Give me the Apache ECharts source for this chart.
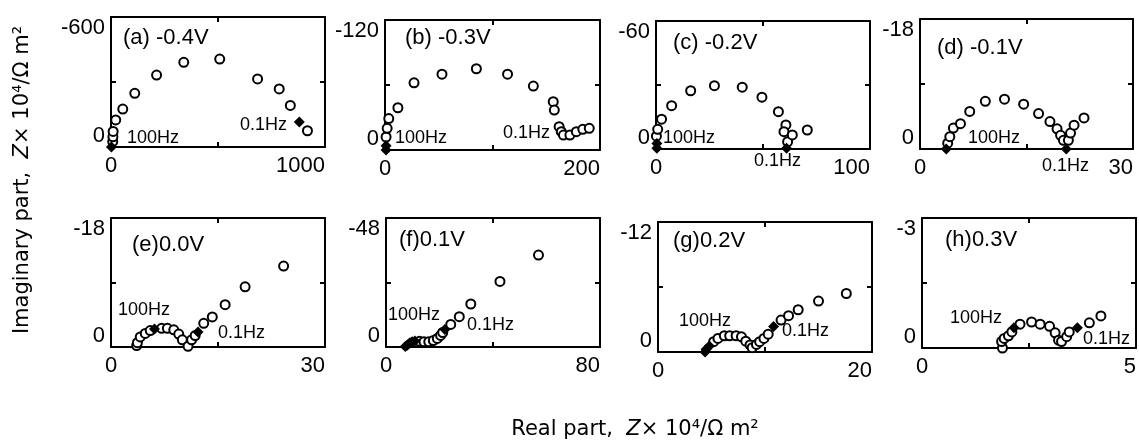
<!DOCTYPE html>
<html>
<head>
<meta charset="utf-8">
<title>Impedance spectra</title>
<script src="https://cdn.jsdelivr.net/npm/echarts@6/dist/echarts.min.js"></script>
<style>
html, body { margin: 0; padding: 0; background: #fff; }
#chart { width: 1139px; height: 441px; }
</style>
</head>
<body>
<div id="chart"></div>
<script>
// data: [real, imaginary] in Z x 10^4 / Ohm m2
var aOpen = [[8,-25],[9,-47],[10,-72],[22,-125],[55,-175],[111,-248],[213,-332],[340,-391],[508,-406],[685,-314],[786,-268],[838,-192],[918,-75]];
var aFilled = [[2,0],[880,-115]];

var bOpen = [[1,-12],[2,-20],[3.5,-29],[12,-39],[27,-62],[53,-70],[85,-75],[114,-70],[138,-59],[156.5,-44.6],[157.5,-36.9],[162,-21.5],[164,-16.9],[166,-13.8],[172,-13.8],[178,-16.9],[184,-19.1],[190,-20]];
var bFilled = [[1,0],[1,-4]];

var cOpen = [[0.2,-6],[0.8,-9.2],[2.6,-14],[7.3,-20.3],[16.2,-27.3],[27.3,-29.7],[40.3,-29],[49.5,-24.3],[57.2,-17.5],[60.7,-11.3],[59.8,-8.1],[61.5,-3.4],[63.7,-6.6],[70.7,-8.9]];
var cFilled = [[0.4,-0.3],[0.4,-2.6],[61,-0.4]];

var dOpen = [[3.9,-0.8],[4.2,-1.7],[4.7,-2.9],[5.7,-3.5],[7.0,-5.2],[9.2,-6.6],[11.9,-6.9],[14.6,-6.2],[16.7,-4.9],[18.3,-3.8],[19.3,-2.8],[19.8,-1.9],[20.2,-1.2],[20.9,-1.2],[21.2,-2.2],[21.7,-3.3],[23.1,-4.3]];
var dFilled = [[3.7,0],[20.6,0]];

var eOpen = [[3.6,-0.2],[3.7,-0.6],[4.1,-1.4],[4.8,-1.9],[5.5,-2.3],[7.1,-2.6],[7.9,-2.6],[8.8,-2.4],[9.5,-1.8],[10.0,-1.0],[10.8,-0.1],[11.3,-1.0],[11.8,-1.6],[13.0,-3.3],[14.2,-4.2],[16.0,-5.9],[18.8,-8.4],[24.2,-11.3]];
var eFilled = [[6.1,-2.5],[12.2,-2.1]];

var fOpen = [[12.5,-2.1],[14.2,-2.0],[16.0,-2.0],[17.7,-2.4],[19.2,-3.2],[20.4,-4.3],[21.2,-5.4],[24.2,-8.4],[27.4,-11.3],[31.7,-16],[42.6,-24.4],[57,-34.2]];
var fFilled = [[7.2,-0.2],[7.8,-0.6],[8.4,-1.1],[9.0,-1.6],[9.8,-2.0],[10.8,-2.2],[22,-6.5]];

var gOpen = [[5.2,-0.95],[5.6,-1.25],[6.2,-1.5],[6.7,-1.5],[7.3,-1.5],[7.8,-1.4],[8.2,-1.0],[8.6,-0.65],[8.8,-0.4],[9.2,-0.7],[9.5,-0.95],[9.9,-1.25],[10.3,-1.65],[11.5,-2.95],[12.2,-3.35],[13.1,-3.9],[15.0,-4.7],[17.6,-5.4]];
var gFilled = [[4.4,0],[4.5,-0.25],[4.8,-0.55],[10.8,-2.35]];

var hOpen = [[1.88,0],[1.86,-0.15],[1.92,-0.22],[2.02,-0.28],[2.1,-0.37],[2.29,-0.55],[2.56,-0.6],[2.76,-0.55],[2.98,-0.5],[3.11,-0.35],[3.19,-0.18],[3.26,-0.15],[3.38,-0.26],[3.44,-0.37],[3.91,-0.58],[4.18,-0.74]];
var hFilled = [[2.15,-0.47],[3.63,-0.47]];

var openSets = [aOpen, bOpen, cOpen, dOpen, eOpen, fOpen, gOpen, hOpen];
var filledSets = [aFilled, bFilled, cFilled, dFilled, eFilled, fFilled, gFilled, hFilled];

// axis ranges (x from 0, y from min to 0)
var xMax = [1000, 200, 100, 30, 30, 80, 20, 5];
var yMin = [-600, -120, -60, -18, -18, -48, -12, -3];
var panelNames = ['(a) -0.4V', '(b) -0.3V', '(c) -0.2V', '(d) -0.1V', '(e)0.0V', '(f)0.1V', '(g)0.2V', '(h)0.3V'];

// plot boxes in px: left, top, width, height
var boxes = [
  [111, 17, 214, 130], [385, 20, 215, 130], [656, 21, 214, 128], [920, 19, 213, 130],
  [111, 218, 214, 129], [386, 218, 214, 129], [658, 222, 214, 130], [922, 218, 214, 130]
];
// text spots: name, 100Hz, 0.1Hz  (left x, middle y)
var notes = [
  [[123, 40], [127, 140], [240, 127]],
  [[405, 40], [395, 140], [503, 135]],
  [[673, 45], [663, 140], [754, 163]],
  [[937, 50], [968, 140], [1042, 168]],
  [[132, 247], [118, 312], [218, 335]],
  [[399, 242], [388, 317], [467, 327]],
  [[673, 243], [679, 323], [782, 333]],
  [[945, 242], [950, 320], [1083, 341]]
];

var FONT = '"Liberation Sans", Arial, sans-serif';
var TITLE_FONT = '"DejaVu Sans", "Liberation Sans", sans-serif';
var chart = echarts.init(document.getElementById('chart'));

var grids = [], xAxes = [], yAxes = [], series = [], graphics = [];

for (var i = 0; i < 8; i++) {
  var b = boxes[i];
  grids.push({ left: b[0], top: b[1], width: b[2], height: b[3], show: false });

  var line = { onZero: false, lineStyle: { color: '#000', width: 2 } };
  var tick = { inside: true, length: 5, lineStyle: { color: '#000', width: 2 } };

  (function (xm, ym) {
    xAxes.push({
      gridIndex: i, type: 'value', min: 0, max: xm, interval: xm / 2, position: 'bottom',
      axisLine: line, axisTick: tick, splitLine: { show: false },
      axisLabel: {
        color: '#000', fontSize: 22, fontFamily: FONT, margin: 8,
        alignMaxLabel: 'right',
        formatter: function (v) { return v === xm / 2 ? '' : String(v); }
      }
    });
    xAxes.push({
      gridIndex: i, type: 'value', min: 0, max: xm, interval: xm / 2, position: 'top',
      axisLine: line, axisTick: tick, splitLine: { show: false }, axisLabel: { show: false }
    });
    yAxes.push({
      gridIndex: i, type: 'value', min: ym, max: 0, interval: -ym / 2, inverse: true, position: 'left',
      axisLine: line, axisTick: tick, splitLine: { show: false },
      axisLabel: {
        color: '#000', fontSize: 22, fontFamily: FONT, margin: 6,
        verticalAlignMinLabel: 'top', verticalAlignMaxLabel: 'bottom',
        formatter: function (v) { return v === ym / 2 ? '' : String(v); }
      }
    });
    yAxes.push({
      gridIndex: i, type: 'value', min: ym, max: 0, interval: -ym / 2, inverse: true, position: 'right',
      axisLine: line, axisTick: tick, splitLine: { show: false }, axisLabel: { show: false }
    });
  })(xMax[i], yMin[i]);

  series.push({
    type: 'scatter', xAxisIndex: 2 * i, yAxisIndex: 2 * i,
    symbol: 'circle', symbolSize: 9,
    itemStyle: { color: '#fff', borderColor: '#000', borderWidth: 2, opacity: 1 },
    data: openSets[i]
  });
  series.push({
    type: 'scatter', xAxisIndex: 2 * i, yAxisIndex: 2 * i,
    symbol: 'diamond', symbolSize: 11,
    itemStyle: { color: '#000', opacity: 1 },
    data: filledSets[i]
  });

  var n = notes[i];
  var txt = [[panelNames[i], 22], ['100Hz', 18], ['0.1Hz', 18]];
  for (var k = 0; k < 3; k++) {
    graphics.push({
      type: 'text', left: n[k][0], top: n[k][1] - txt[k][1] * 0.6, z: 10,
      style: { text: txt[k][0], fill: '#000', font: txt[k][1] + 'px ' + FONT }
    });
  }
}

// axis titles
var rich = {
  n: { fontSize: 21, fontFamily: TITLE_FONT, fill: '#000' },
  i: { fontSize: 21, fontFamily: TITLE_FONT, fontStyle: 'italic', fill: '#000' }
};
graphics.push({
  type: 'text', x: 635, y: 430, z: 10,
  style: {
    text: '{n|Real part,  }{i|Z}{n|× 10⁴/Ω m²}', rich: rich,
    align: 'center', verticalAlign: 'middle'
  }
});
graphics.push({
  type: 'text', x: 23, y: 180, rotation: Math.PI / 2, z: 10,
  style: {
    text: '{n|Imaginary part,  }{i|Z}{n|× 10⁴/Ω m²}', rich: rich,
    align: 'center', verticalAlign: 'middle'
  }
});

chart.setOption({
  animation: false,
  backgroundColor: '#fff',
  grid: grids,
  xAxis: xAxes,
  yAxis: yAxes,
  series: series,
  graphic: graphics
});
</script>
</body>
</html>
